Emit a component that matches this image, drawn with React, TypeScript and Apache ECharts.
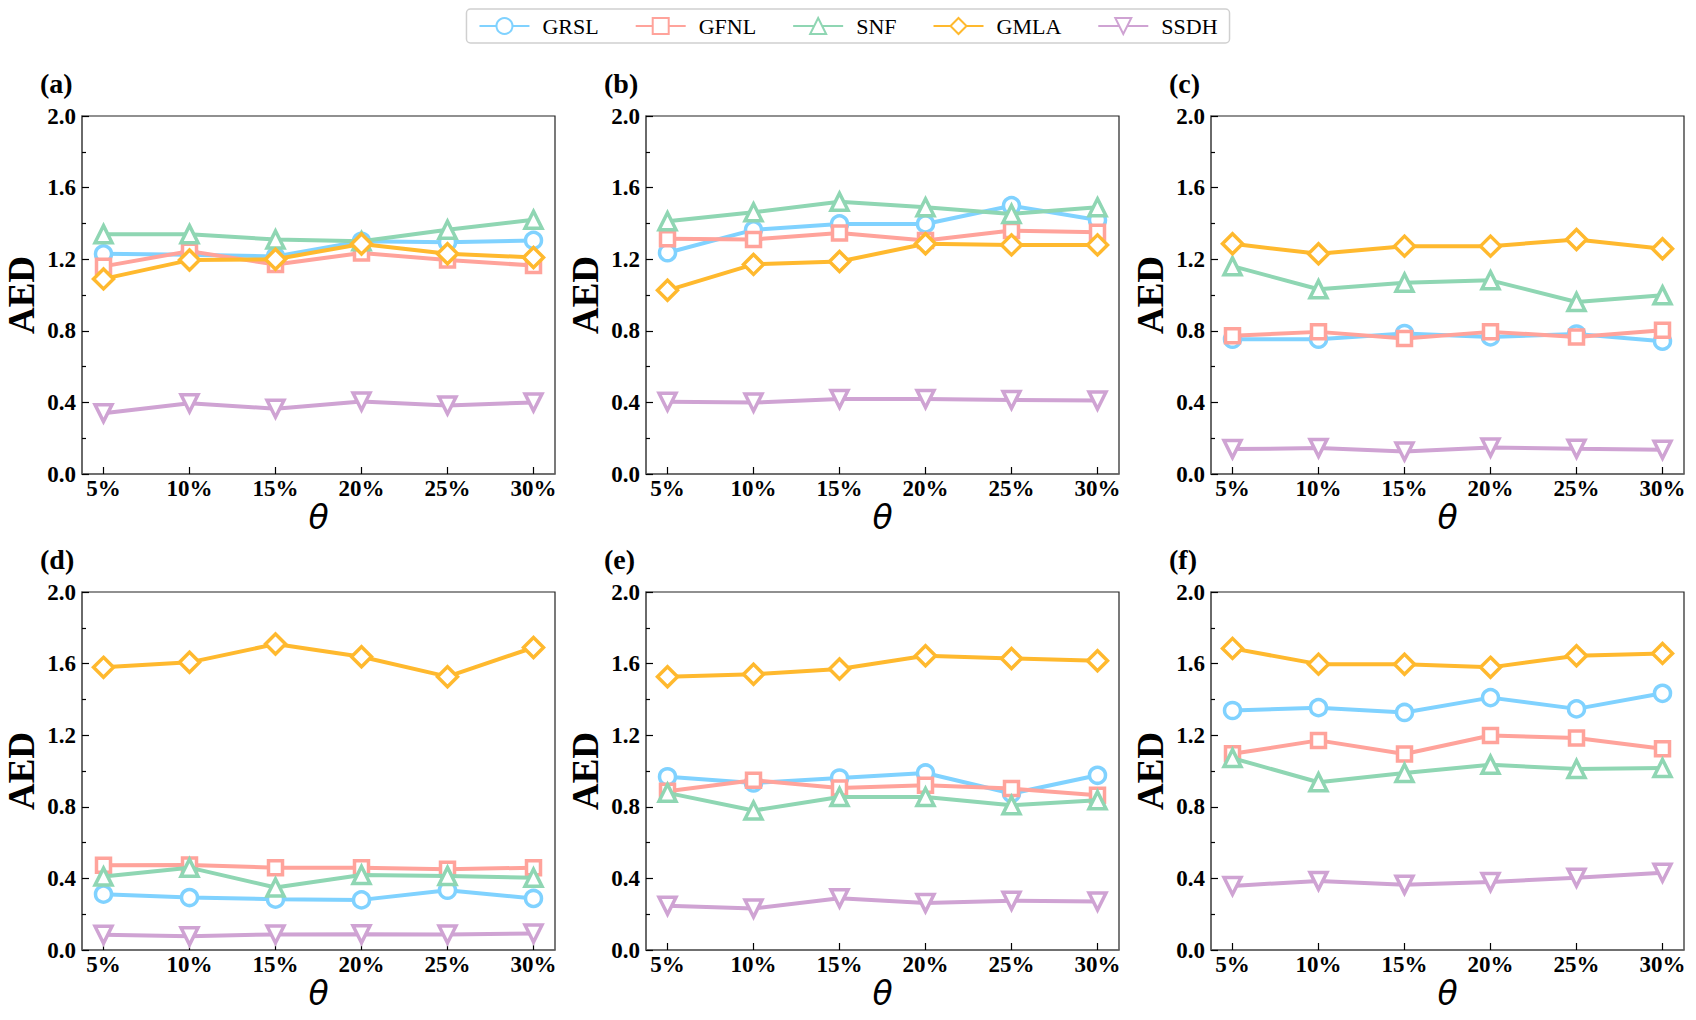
import React, { useEffect, useRef } from "react";
import * as echarts from "echarts";

const thetaValues = [5, 10, 15, 20, 25, 30];
const methodNames = ["GRSL", "GFNL", "SNF", "GMLA", "SSDH"];
const methodColors = ["#80d2ff", "#ffa39b", "#8fd6b3", "#ffb92e", "#cfa3d3"];
const methodSymbols = ["circle", "rect", "triangle", "diamond", "triangle"];
const methodSymbolSizes = [16, 14, 17, 20, 17];
const methodSymbolRotate = [0, 0, 0, 0, 180];
const panelLabels = ["(a)", "(b)", "(c)", "(d)", "(e)", "(f)"];
const yTickLabels = ["0.0", "0.4", "0.8", "1.2", "1.6", "2.0"];

// panel (a)
const a_GRSL = [1.23, 1.225, 1.215, 1.3, 1.295, 1.305];
const a_GFNL = [1.16, 1.245, 1.17, 1.235, 1.195, 1.165];
const a_SNF = [1.34, 1.34, 1.31, 1.3, 1.365, 1.42];
const a_GMLA = [1.09, 1.195, 1.2, 1.285, 1.23, 1.21];
const a_SSDH = [0.34, 0.395, 0.365, 0.405, 0.383, 0.4];
// panel (b)
const b_GRSL = [1.236, 1.364, 1.397, 1.397, 1.499, 1.419];
const b_GFNL = [1.314, 1.31, 1.347, 1.304, 1.36, 1.351];
const b_SNF = [1.412, 1.462, 1.521, 1.49, 1.453, 1.49];
const b_GMLA = [1.026, 1.171, 1.187, 1.286, 1.28, 1.28];
const b_SSDH = [0.404, 0.399, 0.419, 0.419, 0.414, 0.41];
// panel (c)
const c_GRSL = [0.753, 0.753, 0.785, 0.766, 0.782, 0.742];
const c_GFNL = [0.772, 0.794, 0.757, 0.794, 0.766, 0.803];
const c_SNF = [1.161, 1.032, 1.069, 1.082, 0.961, 0.998];
const c_GMLA = [1.286, 1.23, 1.273, 1.273, 1.31, 1.258];
const c_SSDH = [0.139, 0.145, 0.126, 0.148, 0.141, 0.135];
// panel (d)
const d_GRSL = [0.312, 0.293, 0.284, 0.28, 0.334, 0.288];
const d_GFNL = [0.473, 0.475, 0.46, 0.46, 0.451, 0.46];
const d_SNF = [0.41, 0.46, 0.349, 0.419, 0.414, 0.404];
const d_GMLA = [1.579, 1.607, 1.709, 1.638, 1.527, 1.69];
const d_SSDH = [0.085, 0.077, 0.087, 0.088, 0.087, 0.092];
// panel (e)
const e_GRSL = [0.968, 0.933, 0.961, 0.989, 0.874, 0.976];
const e_GFNL = [0.887, 0.948, 0.905, 0.92, 0.902, 0.865];
const e_SNF = [0.878, 0.779, 0.855, 0.855, 0.809, 0.837];
const e_GMLA = [1.527, 1.54, 1.57, 1.644, 1.629, 1.616];
const e_SSDH = [0.247, 0.232, 0.289, 0.262, 0.275, 0.271];
// panel (f)
const f_GRSL = [1.338, 1.354, 1.327, 1.41, 1.347, 1.434];
const f_GFNL = [1.096, 1.171, 1.095, 1.198, 1.184, 1.124];
const f_SNF = [1.072, 0.937, 0.989, 1.035, 1.011, 1.017];
const f_GMLA = [1.685, 1.597, 1.596, 1.579, 1.644, 1.657];
const f_SSDH = [0.358, 0.386, 0.364, 0.38, 0.404, 0.432];

const panels = [
  [a_GRSL, a_GFNL, a_SNF, a_GMLA, a_SSDH],
  [b_GRSL, b_GFNL, b_SNF, b_GMLA, b_SSDH],
  [c_GRSL, c_GFNL, c_SNF, c_GMLA, c_SSDH],
  [d_GRSL, d_GFNL, d_SNF, d_GMLA, d_SSDH],
  [e_GRSL, e_GFNL, e_SNF, e_GMLA, e_SSDH],
  [f_GRSL, f_GFNL, f_SNF, f_GMLA, f_SSDH],
];

const gridLefts = [82, 646, 1211];
const gridTops = [116, 592];
const gridW = 473;
const gridH = 358;

const serif = "'Liberation Serif', 'Times New Roman', serif";

export default function App() {
  const ref = useRef<HTMLDivElement>(null);
  useEffect(() => {
    if (!ref.current) return;
    const chart = echarts.init(ref.current, null, { renderer: "svg" });
    const grids: any[] = [];
    const xAxes: any[] = [];
    const yAxes: any[] = [];
    const series: any[] = [];
    const titles: any[] = [];
    panels.forEach((panel, p) => {
      const col = p % 3;
      const row = Math.floor(p / 3);
      grids.push({
        left: gridLefts[col],
        top: gridTops[row],
        width: gridW,
        height: gridH,
        show: true,
        borderColor: "#222",
        borderWidth: 1.2,
        backgroundColor: "transparent",
      });
      xAxes.push({
        type: "value",
        gridIndex: p,
        min: 3.75,
        max: 31.25,
        name: "θ",
        nameLocation: "middle",
        nameGap: 26,
        nameTextStyle: {
          fontFamily: "'DejaVu Sans', sans-serif",
          fontStyle: "italic",
          fontSize: 33,
          color: "#000",
        },
        axisLine: { show: true, onZero: false, lineStyle: { color: "#666", width: 1.5 } },
        axisTick: {
          show: true,
          inside: true,
          length: 7,
          customValues: thetaValues,
          lineStyle: { color: "#000", width: 1.2 },
        },
        axisLabel: {
          customValues: thetaValues,
          formatter: (v: number) => v + "%",
          fontFamily: serif,
          fontWeight: "bold",
          fontSize: 23,
          color: "#000",
          margin: 3,
        },
        splitLine: { show: false },
      });
      yAxes.push({
        type: "value",
        gridIndex: p,
        min: 0,
        max: 2,
        interval: 0.4,
        name: "AED",
        nameLocation: "middle",
        nameRotate: 90,
        nameGap: 42,
        nameTextStyle: {
          fontFamily: serif,
          fontWeight: "bold",
          fontSize: 37,
          color: "#000",
        },
        axisLine: { show: true, lineStyle: { color: "#666", width: 1.5 } },
        axisTick: { show: true, inside: true, length: 7, lineStyle: { color: "#000", width: 1.2 } },
        minorTick: { show: true, splitNumber: 2, length: 4, lineStyle: { color: "#000", width: 1.2 } },
        axisLabel: {
          formatter: (v: number) => yTickLabels[Math.round(v / 0.4)] ?? v.toFixed(1),
          fontFamily: serif,
          fontWeight: "bold",
          fontSize: 23,
          color: "#000",
          margin: 6,
        },
        splitLine: { show: false },
      });
      titles.push({
        text: panelLabels[p],
        left: gridLefts[col] - 42,
        top: gridTops[row] - 47,
        padding: 0,
        textStyle: { fontFamily: serif, fontWeight: "bold", fontSize: 28, color: "#000" },
      });
      panel.forEach((vals, m) => {
        series.push({
          name: methodNames[m],
          type: "line",
          xAxisIndex: p,
          yAxisIndex: p,
          data: vals.map((v, i) => [thetaValues[i], v]),
          symbol: methodSymbols[m],
          symbolSize: methodSymbolSizes[m],
          symbolRotate: methodSymbolRotate[m],
          showAllSymbol: true,
          lineStyle: { color: methodColors[m], width: 4 },
          itemStyle: { color: "#fff", borderColor: methodColors[m], borderWidth: 3.5 },
          emphasis: { disabled: true },
          z: 2 + m,
        });
      });
    });
    chart.setOption({
      animation: false,
      backgroundColor: "#fff",
      title: titles,
      legend: {
        data: methodNames,
        top: 9,
        left: "center",
        itemWidth: 50,
        itemHeight: 20,
        itemGap: 36,
        padding: [6, 12, 6, 12],
        borderColor: "#d0d0d0",
        borderWidth: 1.5,
        borderRadius: 4,
        textStyle: {
          fontFamily: serif,
          fontSize: 22,
          color: "#000",
          padding: [0, 0, 0, 8],
        },
      },
      grid: grids,
      xAxis: xAxes,
      yAxis: yAxes,
      series,
    });
    return () => chart.dispose();
  }, []);
  return (
    <div
      ref={ref}
      style={{ position: "fixed", left: 0, top: 0, width: 1696, height: 1020, background: "#fff" }}
    />
  );
}
